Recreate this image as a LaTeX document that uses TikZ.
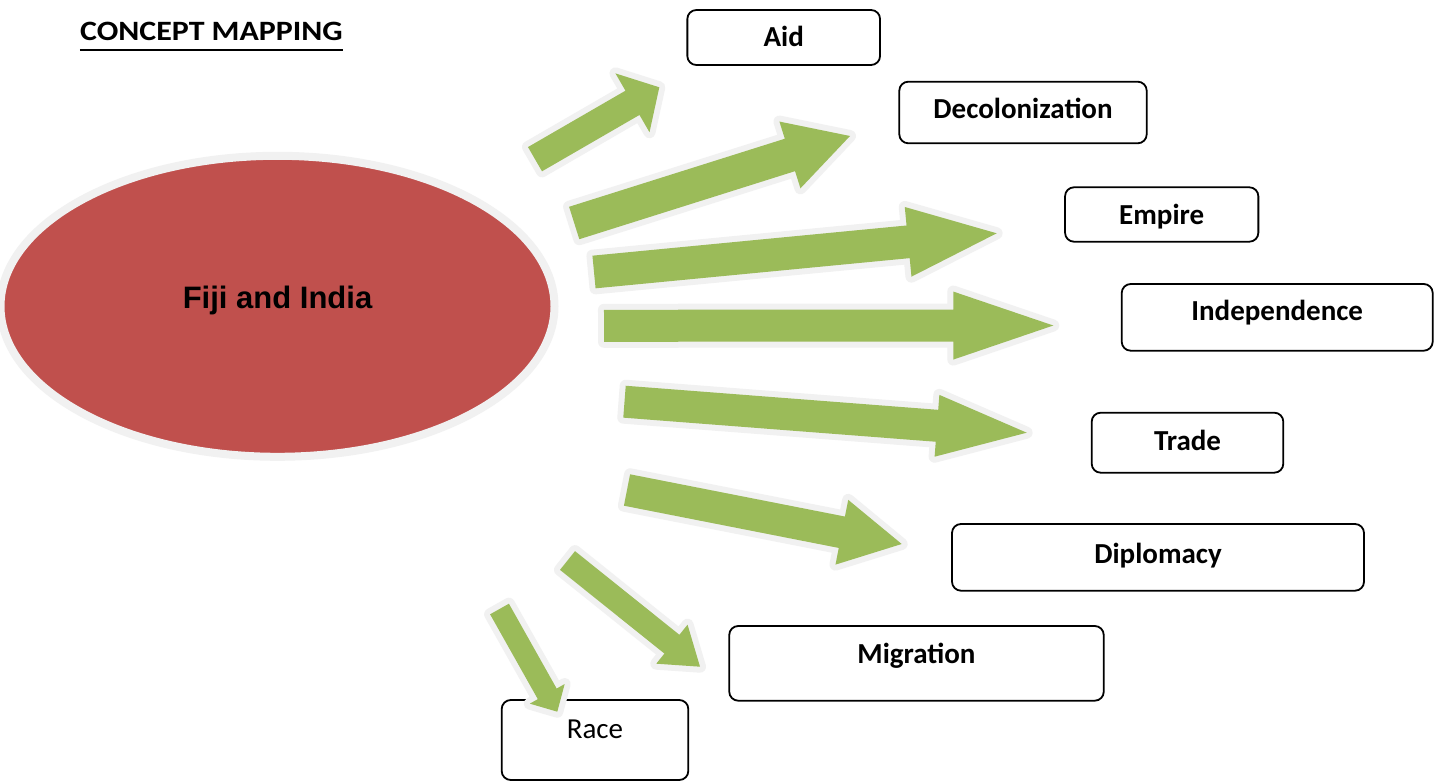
\documentclass[tikz,border=0pt]{standalone}
\usepackage{fontspec}
\setmainfont{Carlito}
\newfontfamily\arialfont{Liberation Sans}
\newfontfamily\headfont{Carlito}[FakeStretch=1.14]
\usetikzlibrary{shapes.geometric,calc}

\definecolor{hubred}{HTML}{C0504D}
\definecolor{leafgreen}{HTML}{9BBB59}
\definecolor{glow}{HTML}{F1F1F1}

% block arrow: tail, tip, half shaft, half head, head length
\newcommand{\blockarrow}[5]{%
  \path ($(#2)!#5!(#1)$) coordinate (#2-base);
  \fill[arrowbody] ($(#1)!#3!90:(#2)$) -- ($(#2-base)!#3!90:(#2)$)
    -- ($(#2-base)!#4!90:(#2)$) -- (#2) -- ($(#2-base)!#4!-90:(#2)$)
    -- ($(#2-base)!#3!-90:(#2)$) -- ($(#1)!#3!-90:(#2)$) -- cycle;
}

\begin{document}
\begin{tikzpicture}[
  x=1pt, y=-1pt,
  hub/.style={
    ellipse, draw=glow, line width=8pt, fill=hubred,
    inner sep=0pt, anchor=base,
    minimum width=554pt, minimum height=301pt,
    text height=20pt, text depth=16pt,
    font=\arialfont\bfseries\fontsize{31}{36}\selectfont
  },
  term/.style={
    rectangle, draw, line width=1.8pt, rounded corners=9pt,
    inner sep=0pt, anchor=base,
    font=\bfseries\fontsize{29}{34}\selectfont
  },
  plainterm/.style={term, font=\mdseries\fontsize{29}{34}\selectfont},
  heading/.style={
    inner sep=0pt, anchor=base,
    font=\headfont\bfseries\fontsize{28}{32}\selectfont
  },
  arrowbody/.style={
    fill=leafgreen,
    preaction={draw=glow, line width=12pt, line join=round}
  }
]

\fill[white] (0,0) rectangle (1434,783);
\useasboundingbox (0,0) rectangle (1434,783);

% =====================================================
% TITLE
% =====================================================

\node[heading] (heading) at (211.5,40.3) {CONCEPT MAPPING};
\draw[line width=2pt] ([yshift=-9.5pt]heading.base west) -- ([yshift=-9.5pt]heading.base east);

% =====================================================
% CENTRE
% =====================================================

\node[hub] (fiji) at (277.5,308.3) {Fiji and India};

% =====================================================
% CONCEPTS
% =====================================================

\node[term, minimum width=192.7pt, text height=36.7pt, text depth=18.3pt] (aid) at (783.7,46.7) {Aid};
\node[term, minimum width=247.4pt, text height=37.3pt, text depth=24.3pt] (decolonization) at (1023,119) {Decolonization};
\node[term, minimum width=193.3pt, text height=37.7pt, text depth=16.7pt] (empire) at (1161.7,225) {Empire};
\node[term, minimum width=311pt, text height=36.7pt, text depth=30pt] (independence) at (1277.2,320.7) {Independence};
\node[term, minimum width=191.6pt, text height=37.3pt, text depth=22.7pt] (trade) at (1187.5,450) {Trade};
\node[term, minimum width=412pt, text height=39.3pt, text depth=27.4pt] (diplomacy) at (1158,563.3) {Diplomacy};
\node[term, minimum width=374.5pt, text height=37.3pt, text depth=37.4pt] (migration) at (916.5,663.3) {Migration};
\node[plainterm, minimum width=186.6pt, text height=38.3pt, text depth=41.7pt] (race) at (595,738.3) {Race};

% =====================================================
% ARROWS
% =====================================================

\coordinate (aidtail) at (535,159.2);
\coordinate (aidtip) at (659.3,87.3);
\coordinate (decoltail) at (574.2,223);
\coordinate (decoltip) at (850,136);
\coordinate (empiretail) at (594,272);
\coordinate (empiretip) at (996.7,233.3);
\coordinate (indeptail) at (604,325.8);
\coordinate (indeptip) at (1053.3,325.5);
\coordinate (tradetail) at (624.5,401.7);
\coordinate (tradetip) at (1026.7,432.7);
\coordinate (diplotail) at (627,490);
\coordinate (diplotip) at (901.7,544);
\coordinate (migtail) at (567.5,560.5);
\coordinate (migtip) at (700,666.7);
\coordinate (racetail) at (499.5,609);
\coordinate (racetip) at (557.3,711.7);

\blockarrow{aidtail}{aidtip}{14pt}{34pt}{31pt}
\blockarrow{decoltail}{decoltip}{17pt}{35pt}{63pt}
\blockarrow{empiretail}{empiretip}{16.4pt}{35pt}{89pt}
\blockarrow{indeptail}{indeptip}{16pt}{34pt}{100pt}
\blockarrow{tradetail}{tradetip}{16pt}{31pt}{90pt}
\blockarrow{diplotail}{diplotip}{16pt}{33pt}{61pt}
\blockarrow{migtail}{migtip}{12pt}{25pt}{36pt}
\blockarrow{racetail}{racetip}{10.8pt}{20pt}{20.5pt}

\end{tikzpicture}
\end{document}
